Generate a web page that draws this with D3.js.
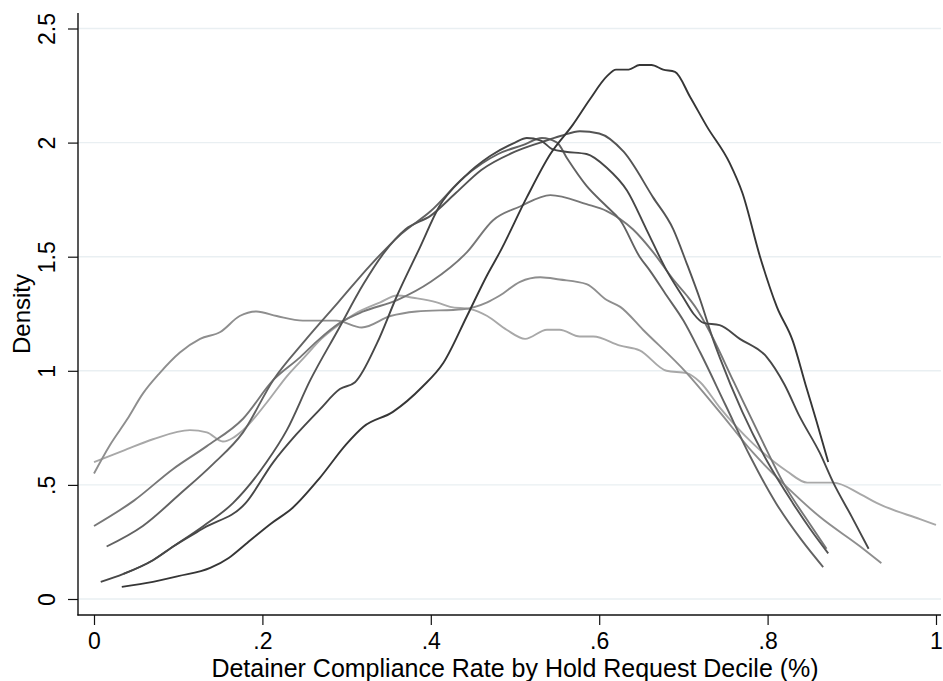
<!DOCTYPE html>
<html>
<head>
<meta charset="utf-8">
<script src="https://cdn.jsdelivr.net/npm/d3@7"></script>
<style>
  html, body { margin: 0; padding: 0; background: #ffffff; }
  svg { display: block; }
  text { font-family: "Liberation Sans", Arial, Helvetica, sans-serif; fill: #000; }
</style>
</head>
<body>
<svg id="chart" width="943" height="681"></svg>
<script>
// ---- data ----
const xTicks = [0, 0.2, 0.4, 0.6, 0.8, 1];
const xTickLabels = ["0", ".2", ".4", ".6", ".8", "1"];
const yTicks = [0, 0.5, 1, 1.5, 2, 2.5];
const yTickLabels = ["0", ".5", "1", "1.5", "2", "2.5"];
const xTitle = "Detainer Compliance Rate by Hold Request Decile (%)";
const yTitle = "Density";

const s1x = [0.033,0.07,0.1,0.138,0.16,0.18,0.21,0.236,0.268,0.3,0.32,0.355,0.39,0.415,0.443,0.467,0.482,0.514,0.542,0.569,0.589,0.609,0.62,0.635,0.648,0.662,0.676,0.69,0.708,0.728,0.755,0.77,0.791,0.811,0.83,0.845,0.858,0.872];
const s1y = [0.053,0.075,0.1,0.136,0.18,0.24,0.33,0.40,0.53,0.68,0.755,0.82,0.93,1.035,1.24,1.42,1.52,1.76,1.95,2.08,2.19,2.29,2.32,2.32,2.34,2.34,2.32,2.31,2.20,2.07,1.91,1.78,1.50,1.28,1.13,0.94,0.78,0.60];

const s2x = [0.008,0.035,0.07,0.094,0.13,0.18,0.213,0.24,0.268,0.292,0.31,0.336,0.36,0.387,0.41,0.44,0.47,0.50,0.514,0.53,0.545,0.56,0.585,0.609,0.633,0.656,0.68,0.70,0.712,0.724,0.743,0.767,0.799,0.82,0.838,0.862,0.878,0.90,0.92];
const s2y = [0.075,0.11,0.17,0.23,0.31,0.42,0.6,0.72,0.83,0.92,0.95,1.12,1.33,1.54,1.72,1.85,1.94,2.0,2.02,2.01,1.97,1.96,1.95,1.89,1.79,1.62,1.44,1.32,1.25,1.21,1.20,1.14,1.06,0.94,0.80,0.64,0.51,0.36,0.22];

const s3x = [0.035,0.07,0.094,0.13,0.165,0.205,0.229,0.257,0.29,0.32,0.345,0.37,0.40,0.43,0.46,0.50,0.53,0.555,0.577,0.60,0.629,0.664,0.688,0.704,0.72,0.735,0.743,0.77,0.80,0.83,0.85,0.872];
const s3y = [0.11,0.17,0.23,0.32,0.42,0.6,0.74,0.96,1.18,1.38,1.52,1.62,1.68,1.78,1.88,1.96,2.0,2.03,2.05,2.04,1.96,1.76,1.62,1.47,1.31,1.14,1.06,0.82,0.6,0.42,0.31,0.2];

const s4x = [0.015,0.058,0.102,0.141,0.177,0.213,0.25,0.29,0.33,0.365,0.40,0.44,0.48,0.51,0.532,0.55,0.562,0.585,0.609,0.625,0.648,0.66,0.68,0.70,0.72,0.75,0.78,0.81,0.84,0.866];
const s4y = [0.23,0.32,0.46,0.59,0.73,0.96,1.13,1.3,1.47,1.6,1.70,1.85,1.95,1.99,2.02,2.0,1.93,1.81,1.72,1.66,1.50,1.44,1.33,1.22,1.08,0.85,0.62,0.42,0.26,0.14];

const s5x = [0,0.047,0.094,0.134,0.177,0.213,0.245,0.265,0.292,0.32,0.36,0.40,0.443,0.474,0.506,0.542,0.585,0.609,0.64,0.664,0.688,0.704,0.716,0.73,0.76,0.79,0.82,0.85,0.87];
const s5y = [0.32,0.43,0.57,0.67,0.79,0.96,1.06,1.13,1.21,1.26,1.31,1.39,1.52,1.66,1.72,1.77,1.73,1.70,1.62,1.52,1.40,1.33,1.27,1.18,0.95,0.72,0.5,0.33,0.22];

const s6x = [0,0.019,0.039,0.058,0.078,0.102,0.126,0.15,0.173,0.193,0.217,0.248,0.288,0.318,0.352,0.383,0.438,0.467,0.482,0.506,0.53,0.553,0.585,0.609,0.625,0.652,0.704,0.743,0.783,0.823,0.862,0.91,0.935];
const s6y = [0.55,0.675,0.785,0.9,0.99,1.08,1.14,1.17,1.24,1.26,1.24,1.22,1.22,1.19,1.24,1.26,1.27,1.30,1.33,1.39,1.41,1.40,1.38,1.31,1.28,1.18,0.99,0.82,0.64,0.49,0.36,0.23,0.157];

const s7x = [0,0.035,0.07,0.114,0.134,0.153,0.177,0.205,0.23,0.25,0.27,0.29,0.31,0.34,0.36,0.379,0.407,0.423,0.447,0.467,0.49,0.512,0.538,0.553,0.577,0.593,0.625,0.648,0.68,0.704,0.72,0.743,0.783,0.823,0.847,0.878,0.91,0.93,0.981,1.0];
const s7y = [0.6,0.65,0.70,0.74,0.73,0.69,0.74,0.86,0.98,1.06,1.14,1.2,1.25,1.30,1.33,1.32,1.30,1.28,1.27,1.24,1.18,1.14,1.18,1.18,1.15,1.15,1.11,1.09,1.0,0.99,0.95,0.84,0.68,0.56,0.51,0.51,0.46,0.42,0.35,0.325];

const seriesX = [s7x, s6x, s5x, s4x, s3x, s2x, s1x];
const seriesY = [s7y, s6y, s5y, s4y, s3y, s2y, s1y];
const seriesColors = ["#a8a8a8", "#8e8e8e", "#777777", "#626262", "#545454", "#474747", "#363636"];

// ---- layout ----
const svg = d3.select("#chart");
const plotTop = 13, plotBottom = 615, plotLeft = 78, plotRight = 941;
const x = d3.scaleLinear().domain([0, 1]).range([94, 936]);
const y = d3.scaleLinear().domain([0, 2.5]).range([599, 28.5]);

// gridlines
svg.append("g").selectAll("line").data(yTicks).join("line")
  .attr("x1", plotLeft).attr("x2", plotRight)
  .attr("y1", d => y(d)).attr("y2", d => y(d))
  .attr("stroke", "#e9eff2").attr("stroke-width", 1.4);

// lines
const line = d3.line().x(d => x(d[0])).y(d => y(d[1])).curve(d3.curveMonotoneX);
seriesX.forEach((xs, i) => {
  const pts = xs.map((v, j) => [v, seriesY[i][j]]);
  svg.append("path").datum(pts)
    .attr("d", line)
    .attr("fill", "none")
    .attr("stroke", seriesColors[i])
    .attr("stroke-width", 1.9)
    .attr("stroke-linejoin", "round");
});

// axes
const yAxis = d3.axisLeft(y).tickValues(yTicks).tickFormat((d, i) => yTickLabels[i]).tickSize(10).tickSizeOuter(0);
const gy = svg.append("g").attr("transform", `translate(${plotLeft},0)`).call(yAxis);
gy.select(".domain").remove();
gy.selectAll(".tick line").attr("stroke", "#111").attr("stroke-width", 1.2);
gy.selectAll(".tick text")
  .attr("x", null).attr("dy", null)
  .attr("transform", "translate(-23,0) rotate(-90)")
  .attr("text-anchor", "middle")
  .style("font-size", "23px")
  .style("font-family", '"Liberation Sans", Arial, Helvetica, sans-serif')
  .attr("fill", "#000");

const xAxis = d3.axisBottom(x).tickValues(xTicks).tickFormat((d, i) => xTickLabels[i]).tickSize(10).tickSizeOuter(0);
const gx = svg.append("g").attr("transform", `translate(0,${plotBottom})`).call(xAxis);
gx.select(".domain").remove();
gx.selectAll(".tick line").attr("stroke", "#111").attr("stroke-width", 1.2);
gx.selectAll(".tick text")
  .attr("y", 34).attr("dy", null)
  .style("font-size", "23px")
  .style("font-family", '"Liberation Sans", Arial, Helvetica, sans-serif')
  .attr("fill", "#000");

svg.append("line").attr("x1", plotLeft).attr("x2", plotLeft).attr("y1", plotTop).attr("y2", plotBottom + 0.6)
  .attr("stroke", "#111").attr("stroke-width", 1.4);
svg.append("line").attr("x1", plotLeft - 0.6).attr("x2", plotRight).attr("y1", plotBottom).attr("y2", plotBottom)
  .attr("stroke", "#111").attr("stroke-width", 1.4);

// titles
svg.append("text").attr("x", (x(0) + x(1)) / 2).attr("y", 677)
  .attr("text-anchor", "middle").style("font-size", "25px").text(xTitle);
svg.append("text").attr("transform", `translate(30,${(plotTop + plotBottom) / 2}) rotate(-90)`)
  .attr("text-anchor", "middle").style("font-size", "24px").text(yTitle);
</script>
</body>
</html>
